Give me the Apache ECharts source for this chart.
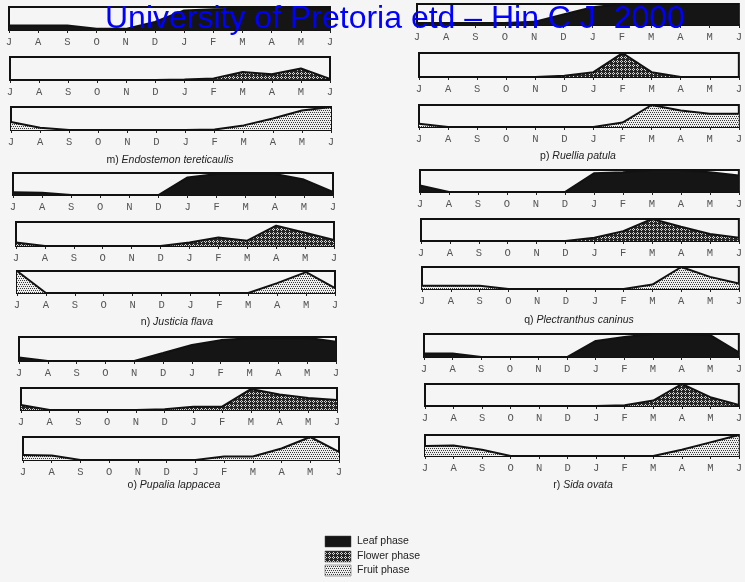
<!DOCTYPE html>
<html><head><meta charset="utf-8">
<script src="https://cdn.jsdelivr.net/npm/echarts@6/dist/echarts.min.js"></script>
<style>html,body{margin:0;padding:0;background:#f5f5f5}#c{width:745px;height:582px}</style>
</head><body><div id="c"></div>
<script>
// Month tick labels (July to June)
const months = ['J','A','S','O','N','D','J','F','M','A','M','J'];
// Relative phase intensity (0-10) per month
const mLeaf   = [2,2,2,0.5,0.5,3.5,8.5,9,9.2,9.2,9.2,9.2];
const mFlower = [0,0,0,0,0,0,0.2,0.7,3.5,2.5,5,0.5];
const mFruit  = [3.5,1,0,0,0,0,0,0.2,2,5,8.5,10];
const nLeaf   = [1.2,1,0,0,0,0,8,9.5,9.5,9.5,7,1.4];
const nFlower = [1.5,0,0,0,0,0,1.5,3.5,2.2,8.5,5.5,2.5];
const nFruit  = [10,0,0,0,0,0,0,0,0,4.5,9.5,2.2];
const oLeaf   = [1.5,0,0,0,0,3.3,6.7,8.7,9.5,9.7,9.7,8];
const oFlower = [2.3,0,0,0,0,0.3,1.5,1.5,9.5,7,5.5,4.5];
const oFruit  = [2.2,2,0,0,0,0,0,1.5,1.5,5,10,3.5];
const pLeaf   = [1,1,1,1,1.5,5,8.5,10,10,10,10,10];
const pFlower = [0,0,0,0,0,0.5,2,10,2,0,0,0];
const pFruit  = [1.5,0,0,0,0,0,0,2,10,7.5,6,6];
const qLeaf   = [3,0,0,0,0,0,8.5,9,10,10,9,7.5];
const qFlower = [0,0,0,0,0,0,1.5,4.5,10,6.5,3.2,1.5];
const qFruit  = [1.5,1.5,1.5,0,0,0,0,0,2,10,5.5,2.5];
const rLeaf   = [1.5,1.5,0,0,0,0,7,8.7,10,10,9.5,2];
const rFlower = [0,0,0,0,0,0,0,0.3,2.5,10,4,0.5];
const rFruit  = [4.8,5,3,0,0,0,0,0,0,3,6.5,10];
const captions = [
  ['m)','Endostemon tereticaulis'],['n)','Justicia flava'],['o)','Pupalia lappacea'],
  ['p)','Ruellia patula'],['q)','Plectranthus caninus'],['r)','Sida ovata']
];
const legendNames = ['Leaf phase','Flower phase','Fruit phase'];
const titleText = 'University of Pretoria etd \u2013 Hin C J  2000';

function pattern(bg, fg, pts, n){
  const c = document.createElement('canvas'); c.width = n; c.height = n;
  const g = c.getContext('2d'); g.fillStyle = bg; g.fillRect(0,0,n,n);
  g.fillStyle = fg; pts.forEach(p => g.fillRect(p[0],p[1],1,1));
  return c;
}
const leafCol = '#151515';
const flowerCan = pattern('#262626','#d8d8d8',[[1,0],[0,1],[2,1],[1,2]],4);
const fruitCan = pattern('#eeeeee','#3a3a3a',[[0,0],[2,0],[1,2],[3,2]],4);
const fills = {
  leaf: leafCol,
  flower: {image: flowerCan, repeat: 'repeat'},
  fruit: {image: fruitCan, repeat: 'repeat'}
};

// geometry of each strip [x0, x1, yTop, yBottom]
const strips = [
  [mLeaf,'leaf',9,330,7,30],[mFlower,'flower',10,330,57,80],[mFruit,'fruit',11,331,107,130],
  [nLeaf,'leaf',13,333,173,195],[nFlower,'flower',16,334,222,246],[nFruit,'fruit',17,335,271,293],
  [oLeaf,'leaf',19,336,337,361],[oFlower,'flower',21,337,388,410],[oFruit,'fruit',23,339,437,460],
  [pLeaf,'leaf',417,740,4,25],[pFlower,'flower',419,740,53,77],[pFruit,'fruit',419,740,105,127],
  [qLeaf,'leaf',420,741,170,192],[qFlower,'flower',421,741,219,241],[qFruit,'fruit',422,741,267,289],
  [rLeaf,'leaf',424,741,334,357],[rFlower,'flower',425,741,384,406],[rFruit,'fruit',425,741,435,456]
];
const capPos = [[170,160],[177,322],[174,485],[578,156],[579,320],[583,485]];

const grid=[], xAxis=[], yAxis=[], series=[];
strips.forEach((s,i)=>{
  const [data,kind,x0,x1,y0,y1] = s;
  grid.push({left:x0, top:y0, width:x1-x0, height:y1-y0, show:true, borderColor:'#111', borderWidth:2, backgroundColor:'rgba(0,0,0,0)'});
  xAxis.push({gridIndex:i, type:'value', min:0, max:11, interval:1,
    axisLine:{show:true, onZero:false, lineStyle:{color:'#111', width:2}},
    axisTick:{show:true, length:3, lineStyle:{color:'#222', width:1}},
    splitLine:{show:false},
    axisLabel:{formatter:v=>months[v], fontFamily:'Liberation Mono', fontSize:10.5, color:'#555', margin:7, showMinLabel:true, showMaxLabel:true}
  });
  yAxis.push({gridIndex:i, type:'value', min:0, max:10, show:false});
  series.push({type:'line', xAxisIndex:i, yAxisIndex:i, data:data.map((v,j)=>[j,v]),
    symbol:'none', silent:true, lineStyle:{color:'#111', width:2},
    areaStyle:{color:fills[kind], opacity:1}, z:2});
});

const graphic = [];
graphic.push({type:'text', x:105, y:19, z:100, style:{text:titleText, font:'32px "Liberation Sans", Arial, sans-serif', fill:'#0000ff', verticalAlign:'middle'}});
captions.forEach((c,i)=>{
  graphic.push({type:'text', x:capPos[i][0], y:capPos[i][1], style:{
    text:'{a|'+c[0]+' }{b|'+c[1]+'}', align:'center', verticalAlign:'middle',
    rich:{a:{fontFamily:'Liberation Sans', fontSize:10.5, fill:'#222'}, b:{fontFamily:'Liberation Sans', fontSize:10.5, fontStyle:'italic', fill:'#222'}}
  }});
});
const legY = [536,551,565];
['leaf','flower','fruit'].forEach((k,i)=>{
  graphic.push({type:'rect', shape:{x:325,y:legY[i],width:26,height:11}, style:{fill:fills[k], stroke:'#444', lineWidth:0.5}});
  graphic.push({type:'text', x:357, y:legY[i]+5.5, style:{text:legendNames[i], font:'10.5px "Liberation Sans", Arial, sans-serif', fill:'#222', verticalAlign:'middle'}});
});

const chart = echarts.init(document.getElementById('c'), null, {renderer:'canvas'});
chart.setOption({backgroundColor:'#f5f5f5', animation:false, grid, xAxis, yAxis, series, graphic});
</script></body></html>
